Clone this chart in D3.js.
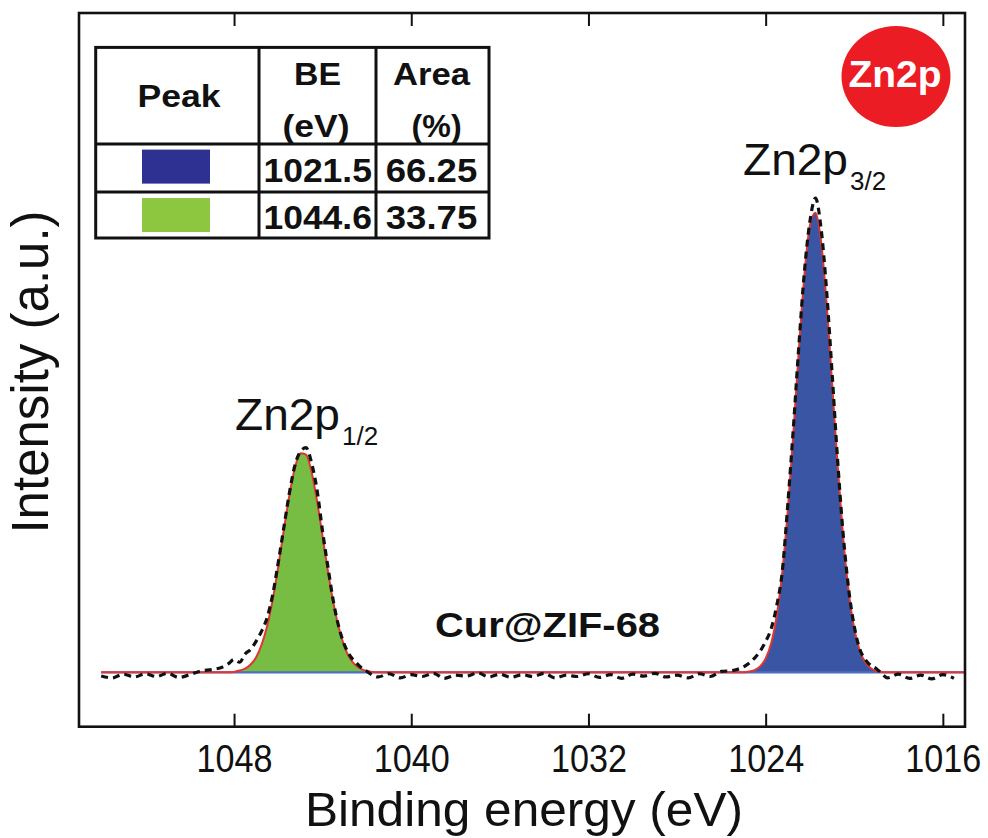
<!DOCTYPE html>
<html>
<head>
<meta charset="utf-8">
<script src="https://cdn.jsdelivr.net/npm/d3@7"></script>
<style>
  html, body { margin: 0; padding: 0; background: #fff; }
  svg { display: block; }
  text { font-family: "Liberation Sans", Arial, Helvetica, sans-serif; }
</style>
</head>
<body>
<svg id="chart" width="988" height="838"></svg>
<script>
// ---------------- data ----------------
// Raw spectrum (dashed black), binding energy (eV) and intensity (a.u.)
const rawBE = [1054.0,1053.5,1053.0,1052.5,1052.0,1051.5,1051.0,1050.5,1050.0,1049.5,1049.0,1048.5,
  1048.25,1048.0,1047.75,1047.5,1047.25,1047.0,1046.75,1046.5,1046.25,1046.0,1045.75,1045.5,1045.25,1045.0,
  1044.75,1044.5,1044.25,1044.0,1043.75,1043.5,1043.25,1043.0,1042.75,1042.5,1042.25,1042.0,1041.75,1041.5,
  1041.0,1040.5,1040.0,1039.5,1039.0,1038.5,1038.0,1037.5,1037.0,1036.5,1036.0,1035.5,1035.0,1034.5,1034.0,
  1033.5,1033.0,1032.5,1032.0,1031.5,1031.0,1030.5,1030.0,1029.5,1029.0,1028.5,1028.0,1027.5,1027.0,1026.5,
  1026.0,1025.5,1025.0,1024.75,1024.5,1024.25,1024.0,1023.75,1023.5,1023.25,1023.0,1022.75,1022.5,1022.25,
  1022.0,1021.75,1021.5,1021.25,1021.0,1020.75,1020.5,1020.25,1020.0,1019.75,1019.5,1019.25,1019.0,1018.75,
  1018.5,1018.0,1017.5,1017.0,1016.5,1016.0,1015.5];
const rawInt = [-0.8,-1.2,-0.4,-1.0,-0.3,-0.9,-0.2,-1.1,-0.5,0.3,0.6,1.2,
  1.9,2.8,2.2,4.0,5.0,6.8,9.0,12.0,17.0,24.0,31.5,39.0,45.0,48.0,
  48.8,45.5,39.5,30.5,22.5,15.0,9.5,5.8,3.5,2.2,1.0,0.2,-0.6,-1.0,
  -0.3,-1.2,-0.5,-0.9,-0.2,-1.3,-0.6,-0.8,-0.1,-1.0,-0.4,-1.1,-0.5,-0.9,-0.2,
  -1.2,-0.6,-0.9,-0.3,-1.1,-0.5,-1.3,-0.4,-0.8,-0.2,-1.0,-0.6,-1.2,-0.3,-0.9,
  0.2,0.4,1.2,2.0,3.1,4.6,6.7,9.5,14.5,21.9,36.5,53.0,71.0,87.0,
  98.0,103.0,96.5,83.0,65.0,46.0,30.0,18.0,10.0,5.0,2.8,1.5,0.8,-0.3,
  -1.2,-0.4,-1.3,-0.6,-1.4,-0.5,-1.3];

// Fitted component Zn2p3/2 (blue)
const p32BE  = [1025.0,1024.75,1024.5,1024.25,1024.0,1023.75,1023.5,1023.25,1023.0,1022.75,1022.5,1022.25,
  1022.0,1021.75,1021.5,1021.25,1021.0,1020.75,1020.5,1020.25,1020.0,1019.75,1019.5,1019.25,1019.0,1018.75,1018.5];
const p32Int = [0.0,0.2,0.5,1.3,3.0,6.3,12.3,21.7,35.2,51.9,70.1,86.3,
  97.1,99.8,93.7,80.3,62.8,44.9,29.3,17.5,9.5,4.7,2.2,0.9,0.3,0.1,0.0];

// Fitted component Zn2p1/2 (green)
const p12BE  = [1048.25,1048.0,1047.75,1047.5,1047.25,1047.0,1046.75,1046.5,1046.25,1046.0,1045.75,1045.5,
  1045.25,1045.0,1044.75,1044.5,1044.25,1044.0,1043.75,1043.5,1043.25,1043.0,1042.75,1042.5,1042.25,1042.0,1041.75,1041.5];
const p12Int = [0.0,0.1,0.4,0.8,1.7,3.3,6.1,10.2,15.9,23.1,31.0,38.5,
  44.5,47.6,47.3,43.5,37.1,29.4,21.6,14.7,9.3,5.4,2.9,1.5,0.7,0.3,0.1,0.0];

// Fit range (envelope / background end points)
const fitRange = [1054.0, 1015.0];

const xDomain = [1055, 1015];
const yDomain = [-11.8, 143.2];
const xTicks = [1048, 1040, 1032, 1024, 1016];

const tablePeakColors = ["#2e3192", "#8dc63f"];
const tableBE = ["1021.5", "1044.6"];
const tableArea = ["66.25", "33.75"];

// ---------------- layout ----------------
const svg = d3.select("#chart");
const M = { left: 79, top: 13, right: 965, bottom: 726.7 };

const x = d3.scaleLinear().domain(xDomain).range([M.left, M.right]);
const y = d3.scaleLinear().domain(yDomain).range([M.bottom, M.top]);

svg.append("rect").attr("width", 988).attr("height", 838).attr("fill", "#fff");

const zip = (a, b) => a.map((e, i) => ({ e, v: b[i] }));
const raw = zip(rawBE, rawInt);
const p32 = zip(p32BE, p32Int);
const p12 = zip(p12BE, p12Int);

// envelope = sum of components over the union grid, background 0 elsewhere
const lookup32 = new Map(p32.map(d => [d.e, d.v]));
const lookup12 = new Map(p12.map(d => [d.e, d.v]));
const envBE = Array.from(new Set([...fitRange, ...p32BE, ...p12BE])).sort((a, b) => b - a);
const env = envBE.map(e => ({ e, v: (lookup32.get(e) || 0) + (lookup12.get(e) || 0) }));

const area = d3.area().x(d => x(d.e)).y0(y(0)).y1(d => y(d.v)).curve(d3.curveMonotoneX);
const line = d3.line().x(d => x(d.e)).y(d => y(d.v)).curve(d3.curveMonotoneX);

const plot = svg.append("g");

plot.append("path").datum(p12).attr("d", area).attr("fill", "#77bc43");
plot.append("path").datum(p32).attr("d", area).attr("fill", "#3a55a3");

// background line
plot.append("path").datum(fitRange.map(e => ({ e, v: 0 })))
  .attr("d", line).attr("fill", "none").attr("stroke", "#4a6fc0").attr("stroke-width", 2.2);

// envelope
plot.append("path").datum(env).attr("d", line)
  .attr("fill", "none").attr("stroke", "#e2352f").attr("stroke-width", 2);

// raw data dashed
plot.append("path").datum(raw).attr("d", line)
  .attr("fill", "none").attr("stroke", "#111").attr("stroke-width", 3.2)
  .attr("stroke-dasharray", "7,5");

// ---------------- axes ----------------
const xAxisB = svg.append("g").attr("transform", `translate(0,${M.bottom})`)
  .call(d3.axisBottom(x).tickValues(xTicks).tickSizeInner(-13).tickSizeOuter(0).tickFormat(d3.format("d")));
xAxisB.select(".domain").remove();
xAxisB.selectAll(".tick line").attr("stroke", "#111").attr("stroke-width", 2);
xAxisB.selectAll(".tick text")
  .attr("y", 45).attr("dy", 0)
  .attr("font-size", 39).attr("fill", "#111")
  .attr("font-family", "'Liberation Sans', Arial, sans-serif")
  .attr("textLength", 76).attr("lengthAdjust", "spacingAndGlyphs");

const xAxisT = svg.append("g").attr("transform", `translate(0,${M.top})`)
  .call(d3.axisTop(x).tickValues(xTicks).tickSizeInner(-13).tickSizeOuter(0).tickFormat(""));
xAxisT.select(".domain").remove();
xAxisT.selectAll(".tick line").attr("stroke", "#111").attr("stroke-width", 2);

// frame
svg.append("rect").attr("x", M.left).attr("y", M.top)
  .attr("width", M.right - M.left).attr("height", M.bottom - M.top)
  .attr("fill", "none").attr("stroke", "#111").attr("stroke-width", 2.6);

// axis titles
svg.append("text").attr("x", 524).attr("y", 826).attr("text-anchor", "middle")
  .attr("font-size", 49).attr("fill", "#111")
  .attr("textLength", 438).attr("lengthAdjust", "spacingAndGlyphs")
  .text("Binding energy (eV)");

svg.append("text").attr("transform", "translate(48,372) rotate(-90)")
  .attr("text-anchor", "middle").attr("font-size", 51).attr("fill", "#111")
  .text("Intensity (a.u.)");

// ---------------- annotations ----------------
function label(xx, yy, main, sub, subDx, subDy) {
  svg.append("text").attr("x", xx).attr("y", yy).attr("font-size", 44).attr("fill", "#111")
    .attr("textLength", 105).attr("lengthAdjust", "spacingAndGlyphs").text(main);
  svg.append("text").attr("x", xx + subDx).attr("y", yy + subDy).attr("font-size", 26).attr("fill", "#111")
    .text(sub);
}
label(743, 175, "Zn2p", "3/2", 107, 15);
label(235, 430, "Zn2p", "1/2", 107, 15);

svg.append("text").attr("x", 435).attr("y", 637).attr("font-size", 35).attr("font-weight", "bold")
  .attr("fill", "#111").attr("textLength", 225).attr("lengthAdjust", "spacingAndGlyphs")
  .text("Cur@ZIF-68");

// badge
svg.append("ellipse").attr("cx", 896).attr("cy", 76.5).attr("rx", 54.5).attr("ry", 50.5).attr("fill", "#ec1c24");
svg.append("text").attr("x", 895).attr("y", 87).attr("text-anchor", "middle")
  .attr("font-size", 37).attr("font-weight", "bold").attr("fill", "#fff")
  .attr("textLength", 93).attr("lengthAdjust", "spacingAndGlyphs").text("Zn2p");

// ---------------- table ----------------
const T = { x0: 95.7, x1: 259, x2: 376, x3: 489, y0: 47.4, y1: 144, y2: 192, y3: 238 };
const tg = svg.append("g");
tg.append("rect").attr("x", T.x0).attr("y", T.y0).attr("width", T.x3 - T.x0).attr("height", T.y3 - T.y0)
  .attr("fill", "#fff").attr("stroke", "#111").attr("stroke-width", 3);
[[T.x1, T.y0, T.x1, T.y3], [T.x2, T.y0, T.x2, T.y3], [T.x0, T.y1, T.x3, T.y1], [T.x0, T.y2, T.x3, T.y2]]
  .forEach(l => tg.append("line").attr("x1", l[0]).attr("y1", l[1]).attr("x2", l[2]).attr("y2", l[3])
    .attr("stroke", "#111").attr("stroke-width", 3));

function ttext(xx, yy, s, len, size) {
  tg.append("text").attr("x", xx).attr("y", yy).attr("text-anchor", "middle")
    .attr("font-size", size).attr("font-weight", "bold").attr("fill", "#111")
    .attr("textLength", len).attr("lengthAdjust", "spacingAndGlyphs").text(s);
}
ttext(179, 107, "Peak", 83, 31);
ttext(317.6, 85, "BE", 47, 31);
ttext(316, 136.5, "(eV)", 67, 31);
ttext(431.5, 85, "Area", 77, 31);
ttext(436.6, 136.5, "(%)", 50, 31);

const rowBase = [182.4, 229.3];
const rowTop = [149.6, 198];
tableBE.forEach((b, i) => {
  tg.append("rect").attr("x", 142).attr("y", rowTop[i]).attr("width", 68).attr("height", 34)
    .attr("fill", tablePeakColors[i]);
  ttext(317.7, rowBase[i], b, 108.5, 33);
  ttext(431.5, rowBase[i], tableArea[i], 91.5, 33);
});
</script>
</body>
</html>
